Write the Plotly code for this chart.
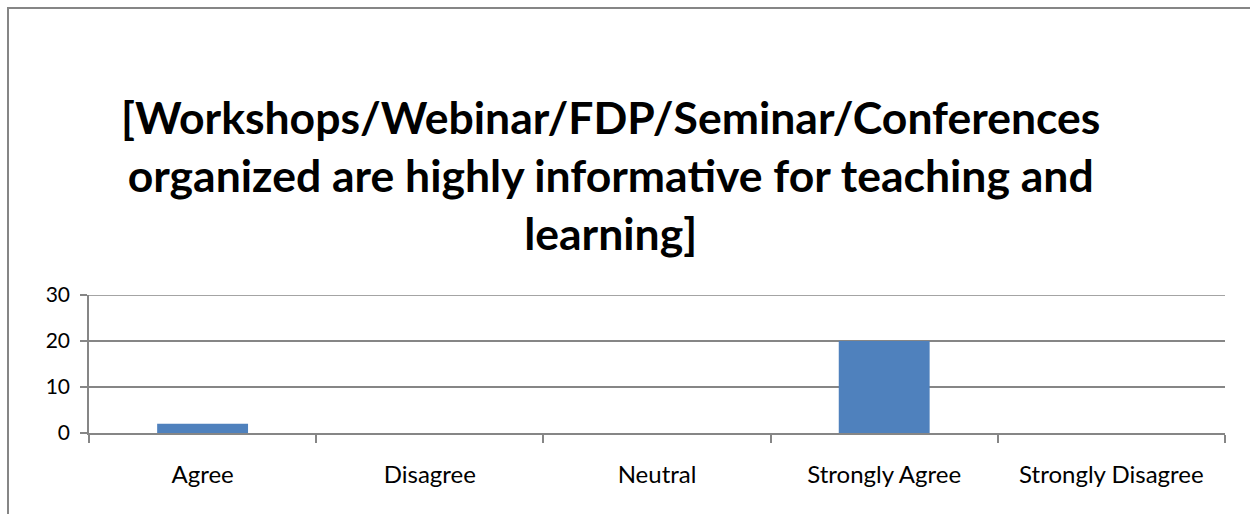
import plotly.graph_objects as go

categories = ["Agree", "Disagree", "Neutral", "Strongly Agree", "Strongly Disagree"]
values = [2, 0, 0, 20, 0]
y_ticks = [0, 10, 20, 30]
title_lines = ["[Workshops/Webinar/FDP/Seminar/Conferences",
               "organized are highly informative for teaching and",
               "learning]"]

W, H = 1250, 514
L, R, T, B = 89, 25, 295, 81
pw, ph = W - L - R, H - T - B
FONT = "Lato, Open Sans, sans-serif"

fig = go.Figure(go.Bar(x=categories, y=values, marker=dict(color="#4f81bd", line=dict(width=0)),
                       width=0.4))

fig.update_layout(
    width=W, height=H, margin=dict(l=L, r=R, t=T, b=B, autoexpand=False),
    paper_bgcolor="white", plot_bgcolor="white", showlegend=False,
    font=dict(family=FONT, size=20, color="black"),
    bargap=0.6,
)
fig.update_xaxes(showgrid=False, showline=True, linecolor="#868686", linewidth=1.5,
                 ticks="outside", tickson="boundaries", ticklen=8, tickcolor="#868686",
                 tickwidth=1.5, tickfont=dict(size=24), ticklabelstandoff=19)
fig.update_yaxes(range=[0, max(y_ticks)], tickvals=y_ticks, showgrid=True, gridcolor="#868686",
                 gridwidth=1.5, showline=True, linecolor="#868686", linewidth=1.5, ticks="outside",
                 ticklen=7, tickcolor="#868686", tickwidth=1.5, zeroline=False,
                 tickfont=dict(size=21), ticklabelstandoff=6)

# top gridline (plotly hides the gridline at the range edge)
fig.add_shape(type="line", xref="paper", yref="y", x0=0, x1=1,
              y0=max(y_ticks), y1=max(y_ticks), line=dict(color="#868686", width=1.5))

# title
fig.add_annotation(text="<br>".join(f"<b>{t}</b>" for t in title_lines),
                   xref="paper", yref="paper", x=(610 - L) / pw, y=(H - B - 174) / ph,
                   xanchor="center", yanchor="middle", showarrow=False,
                   font=dict(family=FONT, size=44.5, color="black"))
# outer border
fig.add_shape(type="rect", xref="paper", yref="paper",
              x0=(8 - L) / pw, x1=(W + 10 - L) / pw,
              y0=(H - B - (H + 10)) / ph, y1=(H - B - 8) / ph,
              line=dict(color="#868686", width=2))

fig.write_html("out.html", config={"displayModeBar": False},
               post_script="document.body.style.margin='0';")
